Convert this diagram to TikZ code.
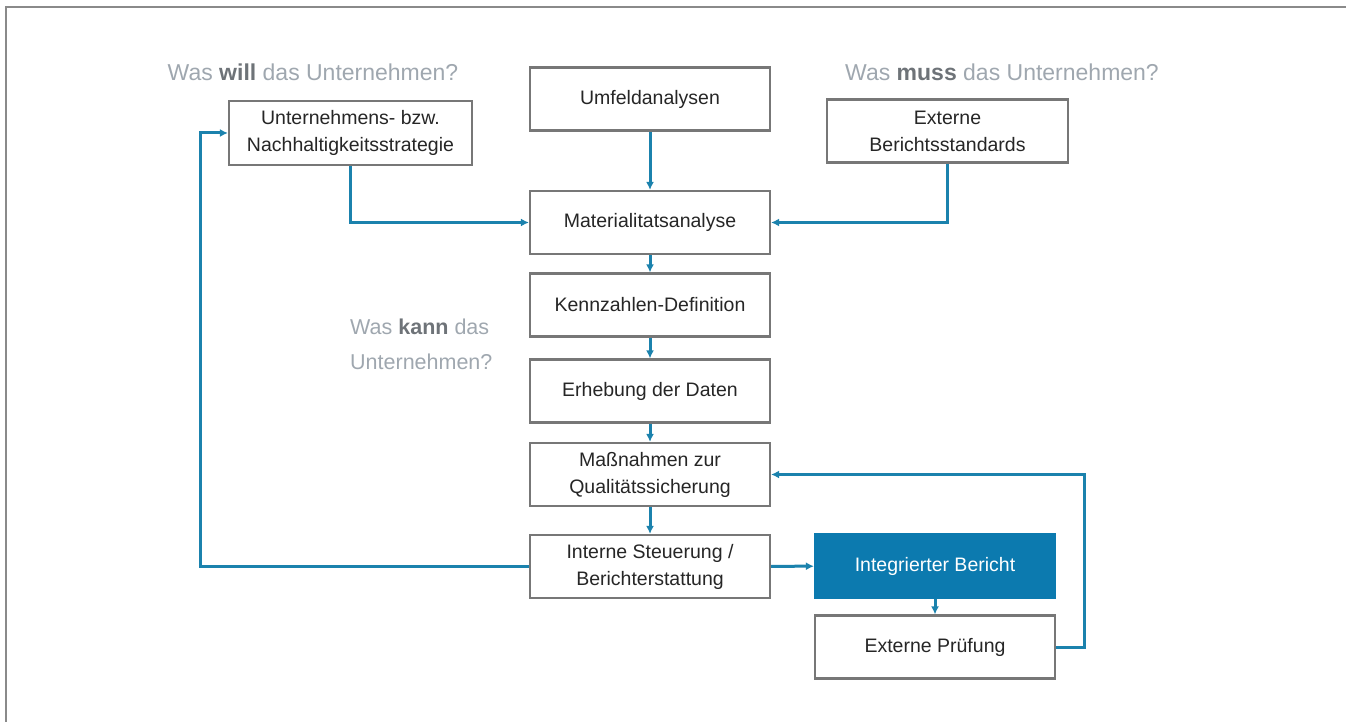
\documentclass[tikz,border=0pt]{standalone}
\usepackage{fontspec}
\setmainfont{Liberation Sans}
\usetikzlibrary{arrows.meta}
\definecolor{flow}{HTML}{1B82AD}
\definecolor{boxline}{HTML}{777777}
\definecolor{reportfill}{HTML}{0C7AAF}
\definecolor{asklight}{HTML}{9FA7AF}
\definecolor{askdark}{HTML}{6E7378}
\definecolor{framegray}{HTML}{8A8A8A}
\begin{document}
\begin{tikzpicture}[x=1pt,y=-1pt,
  stepbox/.style={draw=boxline, line width=2.2pt, fill=white,
    minimum width=240pt, minimum height=63pt, inner sep=2pt, align=center,
    font=\fontsize{19.5}{27}\selectfont, text=black!85},
  flowline/.style={draw=flow, line width=3pt, -{Latex[length=8pt,width=8pt]}},
  ask/.style={text=asklight, font=\fontsize{23}{35}\selectfont, inner sep=0pt}]

% page extent and open frame (top and left edges)
\useasboundingbox (0,0) rectangle (1346,722);
\draw[framegray, line width=2.5pt] (6,722) -- (6,7) -- (1346,7);

% guiding questions
\node[ask] (qwill) at (313,72) {Was \textcolor{askdark}{\textbf{will}} das Unternehmen?};
\node[ask] (qmuss) at (1002,72) {Was \textcolor{askdark}{\textbf{muss}} das Unternehmen?};
\node[ask, align=left, anchor=west, font=\fontsize{21.5}{35}\selectfont] (qkann) at (350,344)
  {Was \textcolor{askdark}{\textbf{kann}} das\\Unternehmen?};

% process steps
\node[stepbox, minimum width=243pt, minimum height=64pt] (strat) at (350.5,133)
  {Unternehmens- bzw.\\Nachhaltigkeitsstrategie};
\node[stepbox] (umfeld) at (650,99) {Umfeldanalysen};
\node[stepbox, minimum width=241pt] (ext) at (947.5,131) {Externe\\Berichtsstandards};
\node[stepbox] (mat) at (650,222.5) {Materialitatsanalyse};
\node[stepbox] (kenn) at (650,305) {Kennzahlen-Definition};
\node[stepbox] (erheb) at (650,391) {Erhebung der Daten};
\node[stepbox] (mass) at (650,474.5) {Maßnahmen zur\\Qualitätssicherung};
\node[stepbox] (intern) at (650,566.5) {Interne Steuerung /\\Berichterstattung};
\node[stepbox, fill=reportfill, draw=reportfill, text=white] (bericht) at (935,566) {Integrierter Bericht};
\node[stepbox] (pruef) at (935,647) {Externe Prüfung};

% connectors
\draw[flowline] (umfeld) -- (mat);
\draw[flowline] (strat.south) |- (mat.west);
\draw[flowline] (ext.south) |- (mat.east);
\draw[flowline] (mat) -- (kenn);
\draw[flowline] (kenn) -- (erheb);
\draw[flowline] (erheb) -- (mass);
\draw[flowline] (mass) -- (intern);
\draw[flowline] (intern.west) -- ++(-328,0) |- (strat.west);
\draw[flowline] (intern) -- (bericht);
\draw[flowline] (bericht) -- (pruef);
\draw[flowline] (pruef.east) -- ++(28,0) |- (mass.east);
\end{tikzpicture}
\end{document}
